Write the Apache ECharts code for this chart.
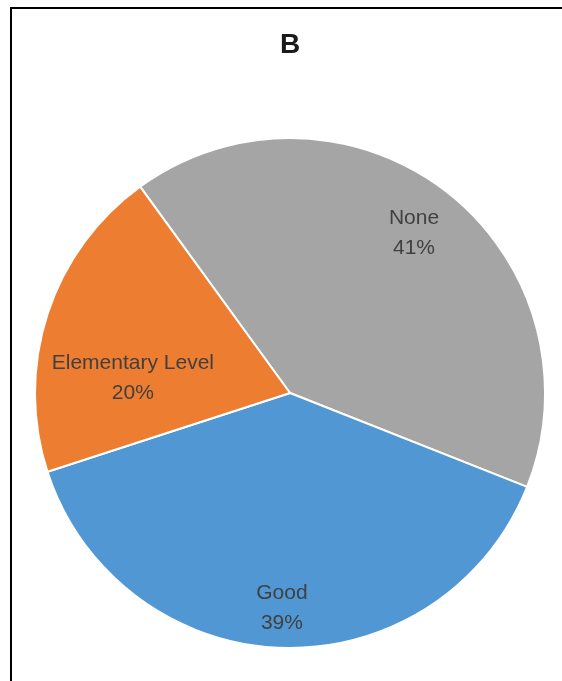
<!DOCTYPE html>
<html>
<head>
<meta charset="utf-8">
<script src="https://cdn.jsdelivr.net/npm/echarts@6/dist/echarts.min.js"></script>
<style>
  html, body { margin: 0; padding: 0; background: #fff; }
  #chart { width: 562px; height: 681px; }
</style>
</head>
<body>
<div id="chart"></div>
<script>
// Slice categories, shares (%) and fill colours
const categories = ['None', 'Good', 'Elementary Level'];
const shares = [41, 39, 20];
const colors = ['#A5A5A5', '#5197D3', '#ED7D31'];
// Label nudges away from the default mid-radius spot, per slice
const labelShift = [[44, -57], [-4, 85], [-33, 26]];

const chart = echarts.init(document.getElementById('chart'), null, { renderer: 'canvas' });

chart.setOption({
  animation: false,
  backgroundColor: '#ffffff',
  graphic: [
    {
      type: 'rect',
      shape: { x: 11, y: 8, width: 700, height: 800 },
      style: { fill: 'none', stroke: '#000000', lineWidth: 2 },
      silent: true
    },
    {
      type: 'text',
      style: {
        text: 'B',
        x: 290,
        y: 45,
        textAlign: 'center',
        textVerticalAlign: 'middle',
        fontFamily: 'Liberation Sans, Arial, sans-serif',
        fontWeight: 'bold',
        fontSize: 28,
        fill: '#1a1a1a'
      }
    }
  ],
  series: [
    {
      type: 'pie',
      center: [290, 393],
      radius: [0, 255],
      startAngle: 126,
      clockwise: true,
      avoidLabelOverlap: false,
      itemStyle: { borderColor: '#ffffff', borderWidth: 2 },
      label: {
        show: true,
        position: 'inside',
        formatter: p => p.name + '\n' + p.value + '%',
        color: '#404040',
        fontFamily: 'Liberation Sans, Arial, sans-serif',
        fontSize: 21,
        lineHeight: 30,
        align: 'center'
      },
      labelLayout: params => ({
        dx: labelShift[params.dataIndex][0],
        dy: labelShift[params.dataIndex][1]
      }),
      emphasis: { disabled: true },
      data: categories.map((name, i) => ({
        name: name,
        value: shares[i],
        itemStyle: { color: colors[i] }
      }))
    }
  ]
});
</script>
</body>
</html>
